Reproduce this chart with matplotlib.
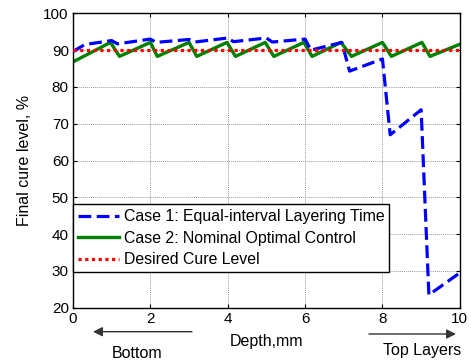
import matplotlib
matplotlib.use("Agg")
import matplotlib.pyplot as plt

plt.rcParams['font.family'] = ['Liberation Sans', 'DejaVu Sans']

# Case 1: Equal-interval layering time
case1_x = [0, 0.3, 1.0, 1.15, 2.0, 2.15, 3.0, 3.15, 4.0, 4.15, 5.0, 5.15, 6.0, 6.15, 6.95, 7.15, 8.0, 8.2, 9.0, 9.2, 10.0]
case1_y = [89.6, 91.5, 92.6, 91.7, 93.0, 92.1, 92.9, 92.2, 93.3, 92.3, 93.3, 92.2, 93.0, 90.0, 92.1, 84.3, 87.6, 67.0, 73.8, 23.5, 29.5]

# Case 2: Nominal optimal control
case2_x = [0, 0.97, 1.2, 2.0, 2.18, 3.0, 3.2, 3.98, 4.2, 4.97, 5.19, 5.97, 6.18, 6.93, 7.2, 8.0, 8.23, 9.02, 9.23, 10.0]
case2_y = [86.8, 92.1, 88.3, 92.1, 88.3, 92.1, 88.3, 92.1, 88.3, 92.1, 88.3, 92.1, 88.3, 92.1, 88.3, 92.1, 88.3, 92.1, 88.3, 91.6]

# Desired cure level
desired_x = [0, 10]
desired_y = [90, 90]

labels = ['Case 1: Equal-interval Layering Time',
          'Case 2: Nominal Optimal Control',
          'Desired Cure Level']

fig = plt.figure(figsize=(4.77, 3.6), dpi=100)
ax = fig.add_axes([0.153, 0.145, 0.811, 0.818])

ax.plot(case1_x, case1_y, color='#0000ff', linestyle=(0, (4, 1.7)), linewidth=2.3, label=labels[0], zorder=3)
ax.plot(case2_x, case2_y, color='#008000', linestyle='-', linewidth=2.4, label=labels[1], zorder=2)
ax.plot(desired_x, desired_y, color='#ff0000', linestyle=(0, (1, 1.1)), linewidth=2.3, label=labels[2], zorder=4)

ax.set_xlim(0, 10)
ax.set_ylim(20, 100)
ax.set_xticks([0, 2, 4, 6, 8, 10])
ax.set_yticks([20, 30, 40, 50, 60, 70, 80, 90, 100])
ax.tick_params(direction='in', top=True, right=True, labelsize=11, length=3, pad=3)
ax.grid(True, color='#9a9a9a', linestyle=(0, (1, 1)), linewidth=0.7)
for s in ax.spines.values():
    s.set_linewidth(1.0)

ax.set_ylabel('Final cure level, %', fontsize=11.5, labelpad=8)
ax.set_xlabel('Depth,mm', fontsize=11.5, labelpad=6)

leg = ax.legend(loc='lower left', bbox_to_anchor=(0.0, 0.121), fontsize=11.4,
                frameon=True, fancybox=False, edgecolor='black', framealpha=1,
                borderpad=0.3, labelspacing=0.42, handlelength=2.6, handletextpad=0.3,
                borderaxespad=0)
leg.get_frame().set_linewidth(1.0)

# Arrows and annotations below the axis
ax.annotate('', xy=(93 / 477, 1 - 331.7 / 360), xycoords='figure fraction',
            xytext=(192 / 477, 1 - 331.7 / 360), textcoords='figure fraction',
            arrowprops=dict(arrowstyle='-|>', color='#333333', lw=1.0, mutation_scale=14,
                            shrinkA=0, shrinkB=0), annotation_clip=False)
ax.annotate('', xy=(456 / 477, 1 - 334 / 360), xycoords='figure fraction',
            xytext=(369 / 477, 1 - 334 / 360), textcoords='figure fraction',
            arrowprops=dict(arrowstyle='-|>', color='#333333', lw=1.0, mutation_scale=14,
                            shrinkA=0, shrinkB=0), annotation_clip=False)
fig.text(137.5 / 477, 1 - 353 / 360, 'Bottom', ha='center', va='center', fontsize=11.5)
fig.text(422.5 / 477, 1 - 351 / 360, 'Top Layers', ha='center', va='center', fontsize=11.5)

fig.savefig('out.png', dpi=100)
